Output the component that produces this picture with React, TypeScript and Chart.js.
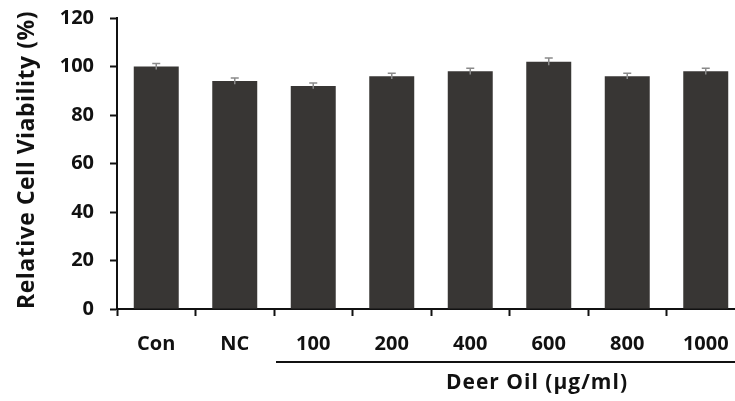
import React, { useEffect, useRef } from "react";
import { Chart, registerables } from "chart.js";

Chart.register(...registerables);

const categories = ["Con", "NC", "100", "200", "400", "600", "800", "1000"];
const viability = [100, 94, 92, 96, 98, 102, 96, 98];
const errors = [1.2, 1.3, 1.2, 1.2, 1.3, 1.5, 1.2, 1.3];
const yTicks = [0, 20, 40, 60, 80, 100, 120];
const yTitle = "Relative Cell Viability (%)";
const groupLabel = "Deer Oil (μg/ml)";
const groupStart = 2; // first dosed category

const FONT = "'Open Sans', 'Noto Sans', sans-serif";

const annotations = {
  id: "annotations",
  afterDatasetsDraw(chart: any) {
    const { ctx, scales } = chart;
    const y = scales.y;
    const meta = chart.getDatasetMeta(0);
    ctx.save();
    // error bars
    ctx.strokeStyle = "#8a8a8a";
    ctx.lineWidth = 1.5;
    meta.data.forEach((bar: any, i: number) => {
      const cx = bar.x;
      const top = y.getPixelForValue(viability[i] + errors[i]);
      const bot = y.getPixelForValue(viability[i] - errors[i]);
      ctx.beginPath();
      ctx.moveTo(cx, top);
      ctx.lineTo(cx, bot);
      ctx.moveTo(cx - 4, top);
      ctx.lineTo(cx + 4, top);
      ctx.stroke();
    });
    ctx.restore();
  },
  afterDraw(chart: any) {
    const { ctx, scales } = chart;
    const x = scales.x;
    ctx.save();
    // y-axis title
    ctx.fillStyle = "#111";
    ctx.font = `bold 23px ${FONT}`;
    (ctx as any).letterSpacing = "0.5px";
    ctx.textAlign = "center";
    ctx.textBaseline = "middle";
    ctx.translate(27, 160);
    ctx.rotate(-Math.PI / 2);
    ctx.fillText(yTitle, 0, 0);
    ctx.restore();

    // group bracket under the dosed categories
    ctx.save();
    const half = (x.getPixelForValue(1) - x.getPixelForValue(0)) / 2;
    const x0 = x.getPixelForValue(groupStart) - half + 2;
    const x1 = x.getPixelForValue(categories.length - 1) + half;
    ctx.strokeStyle = "#111";
    ctx.lineWidth = 2;
    ctx.beginPath();
    ctx.moveTo(x0, 362);
    ctx.lineTo(x1 + 20, 362);
    ctx.stroke();
    ctx.fillStyle = "#111";
    ctx.font = `bold 21px ${FONT}`;
    (ctx as any).letterSpacing = "1px";
    ctx.textAlign = "center";
    ctx.textBaseline = "middle";
    ctx.fillText(groupLabel, 537, 383);
    ctx.restore();
  },
};

export default function App() {
  const ref = useRef<HTMLCanvasElement | null>(null);
  useEffect(() => {
    if (!ref.current) return;
    const chart = new Chart(ref.current, {
      type: "bar",
      data: {
        labels: categories,
        datasets: [
          {
            data: viability,
            backgroundColor: "#383634",
            borderWidth: 0,
            barPercentage: 0.573,
            categoryPercentage: 1,
          },
        ],
      },
      options: {
        responsive: false,
        animation: false,
        devicePixelRatio: 1,
        layout: { padding: { top: 18, right: 15, left: 0, bottom: 0 } },
        plugins: { legend: { display: false }, tooltip: { enabled: false } },
        scales: {
          x: {
            offset: true,
            border: { display: true, color: "#111", width: 2 },
            grid: {
              offset: true,
              drawOnChartArea: false,
              drawTicks: true,
              tickLength: 7,
              tickWidth: 2,
              tickColor: "#111",
            },
            ticks: {
              color: "#111",
              font: { family: FONT, size: 20, weight: "bold" },
              padding: 16,
              maxRotation: 0,
              autoSkip: false,
            },
            afterFit(scale: any) {
              scale.height = 92;
              scale.paddingLeft = 0;
              scale.paddingRight = 0;
            },
          },
          y: {
            min: 0,
            max: 120,
            afterBuildTicks(scale: any) {
              scale.ticks = yTicks.map((v) => ({ value: v }));
            },
            border: { display: true, color: "#111", width: 2 },
            grid: {
              drawOnChartArea: false,
              drawTicks: true,
              tickLength: 7,
              tickWidth: 2,
              tickColor: "#111",
            },
            ticks: {
              color: "#111",
              font: { family: FONT, size: 20, weight: "bold" },
              padding: 16,
            },
            afterFit(scale: any) {
              scale.width = 117;
              scale.paddingTop = 0;
              scale.paddingBottom = 0;
            },
          },
        },
      },
      plugins: [annotations],
    });
    return () => chart.destroy();
  }, []);
  return (
    <div
      style={{
        position: "fixed",
        left: 0,
        top: 0,
        width: 735,
        height: 401,
        overflow: "hidden",
        background: "#fff",
      }}
    >
      <canvas ref={ref} width={760} height={401} style={{ display: "block" }} />
    </div>
  );
}
